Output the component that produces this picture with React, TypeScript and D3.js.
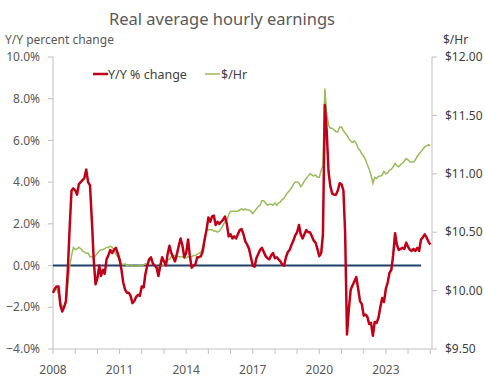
import React from 'react';
import * as d3 from 'd3';

// monthly, Jan 2008 .. Jan 2025
const startYear = 2008;
const yoyChange = [
  -1.3, -1.1, -1.0, -1.0, -1.9, -2.2, -2.0, -1.7, -0.2, 1.8,
  3.6, 3.7, 3.6, 3.4, 3.9, 4.0, 4.1, 4.2, 4.6, 4.0,
  3.85, 2.2, 0.3, -0.9, -0.6, 0.0, -0.5, -0.2, -0.4, 0.3,
  0.5, 0.75, 0.6, 0.75, 0.85, 0.6, 0.3, -0.2, -0.8, -1.15,
  -1.3, -1.3, -1.45, -1.8, -1.7, -1.5, -1.4, -1.45, -1.0, -1.05,
  -0.4, 0.0, 0.3, 0.4, 0.1, 0.0, -0.1, -0.5, 0.0, 0.4,
  0.2, 0.0, 0.55, 0.95, 0.6, 0.4, 0.2, 0.55, 0.95, 1.3,
  0.95, 0.4, 0.6, 1.25, 0.5, -0.1, 0.0, 0.05, 0.4, 0.4,
  0.45, 0.7, 1.25, 1.7, 2.3, 2.1, 2.35, 2.4, 1.95, 2.1,
  2.0, 2.1, 2.2, 2.35, 2.0, 1.4, 1.5, 1.3, 1.4, 1.3,
  1.5, 1.7, 1.75, 1.5, 1.15, 1.0, 0.8, 0.4, 0.0, -0.05,
  0.35, 0.55, 0.75, 0.85, 0.65, 0.45, 0.35, 0.3, 0.5, 0.6,
  0.35, 0.4, 0.3, 0.2, 0.05, 0.0, 0.4, 0.65, 0.75, 1.0,
  1.2, 1.45, 1.6, 1.95, 1.5, 1.3, 1.5, 1.7, 1.6, 1.6,
  1.4, 1.2, 1.1, 0.8, 0.45, 0.6, 1.5, 7.7, 6.5, 4.5,
  3.8, 3.45, 3.4, 3.4, 3.6, 3.95, 3.9, 3.6, 1.6, -3.3,
  -2.1, -1.15, -0.95, -0.75, -0.55, -1.1, -1.7, -1.85, -2.4, -2.35,
  -2.45, -2.8, -2.75, -3.37, -2.7, -2.75, -2.5, -2.0, -1.55, -1.75,
  -1.1, -0.8, -0.35, -0.2, 0.5, 1.55, 1.0, 0.75, 0.8, 0.85,
  0.8, 1.1, 0.9, 0.75, 0.7, 0.8, 0.7, 0.85, 0.7, 1.25,
  1.35, 1.5, 1.35, 1.15, 1.0,
];
const hourly = [
  9.98, 10.0, 10.02, 9.97, 9.9, 9.87, 9.86, 9.9, 10.05, 10.2,
  10.3, 10.37, 10.35, 10.36, 10.37, 10.36, 10.34, 10.33, 10.32, 10.32,
  10.29, 10.29, 10.28, 10.3, 10.32, 10.34, 10.35, 10.35, 10.36, 10.37,
  10.37, 10.38, 10.37, 10.35, 10.31, 10.29, 10.25, 10.23, 10.22, 10.23,
  10.21, 10.22, 10.22, 10.21, 10.21, 10.21, 10.21, 10.22, 10.21, 10.22,
  10.23, 10.22, 10.26, 10.26, 10.24, 10.22, 10.2, 10.19, 10.21, 10.22,
  10.22, 10.24, 10.26, 10.27, 10.29, 10.3, 10.3, 10.29, 10.29, 10.29,
  10.29, 10.28, 10.28, 10.29, 10.29, 10.29, 10.3, 10.3, 10.31, 10.32,
  10.33, 10.37, 10.45, 10.52, 10.52, 10.52, 10.52, 10.51, 10.51, 10.5,
  10.51, 10.53, 10.56, 10.59, 10.6, 10.65, 10.68, 10.68, 10.68, 10.68,
  10.68, 10.69, 10.7, 10.69, 10.7, 10.69, 10.69, 10.68, 10.66, 10.68,
  10.7, 10.72, 10.73, 10.77, 10.77, 10.75, 10.73, 10.74, 10.74, 10.73,
  10.75, 10.73, 10.75, 10.76, 10.78, 10.79, 10.82, 10.84, 10.86, 10.88,
  10.91, 10.93, 10.93, 10.92, 10.89, 10.91, 10.94, 10.96, 10.98, 11.0,
  10.99, 10.98, 10.99, 10.97, 10.97, 11.03, 11.07, 11.73, 11.52, 11.42,
  11.39, 11.39, 11.375, 11.36, 11.36, 11.4, 11.4, 11.37, 11.35, 11.33,
  11.3, 11.28, 11.27, 11.28, 11.26, 11.22, 11.2, 11.17, 11.15, 11.12,
  11.08, 11.04, 10.99, 10.92, 10.97, 10.96, 10.98, 10.98, 10.99, 11.02,
  11.0, 11.01, 11.03, 11.04, 11.06, 11.09, 11.07, 11.06, 11.08, 11.09,
  11.11, 11.13, 11.12, 11.1, 11.1, 11.1, 11.12, 11.15, 11.17, 11.19,
  11.21, 11.23, 11.24, 11.25, 11.24,
];
const zeroLineMonths = 200; // zero reference drawn through Aug 2024
const pctTicks = [-4, -2, 0, 2, 4, 6, 8, 10];
const dollarTicks = [9.5, 10, 10.5, 11, 11.5, 12];
const yearLabels = [2008, 2011, 2014, 2017, 2020, 2023];

const W = 485;
const H = 387;
const left = 53;
const right = 432;
const top = 57;
const bottom = 349;
const font = '"Noto Sans", "DejaVu Sans", sans-serif';
const textColor = '#595959';
const axisColor = '#BFBFBF';

const monthDate = (i: number) => new Date(startYear, i, 1);

export default function App() {
  const x = d3.scaleTime()
    .domain([new Date(2008, 0, 1), new Date(2025, 0, 29)])
    .range([left, right]);
  const yPct = d3.scaleLinear().domain([-4, 10]).range([bottom, top]);
  const yUsd = d3.scaleLinear().domain([9.5, 12]).range([bottom, top]);

  const redLine = d3.line<number>()
    .x((_, i) => x(monthDate(i)))
    .y((d) => yPct(d));
  const greenLine = d3.line<number>()
    .x((_, i) => x(monthDate(i)))
    .y((d) => yUsd(d));

  const years = d3.range(2008, 2026);

  return (
    <svg width={W} height={H} style={{ position: 'absolute', left: 0, top: 0 }} fontFamily={font}>
      <rect width={W} height={H} fill="#fff" />
      <text x={222} y={25} textAnchor="middle" fontSize={16.5} fill={textColor}>
        Real average hourly earnings
      </text>
      <text x={5} y={44} fontSize={12} fill={textColor}>Y/Y percent change</text>
      <text x={443} y={44} fontSize={12} fill="#404040">$/Hr</text>

      {/* left axis */}
      <line x1={left} x2={left} y1={top} y2={bottom} stroke={axisColor} />
      {pctTicks.map((t) => (
        <g key={t}>
          <line x1={left - 5} x2={left} y1={yPct(t)} y2={yPct(t)} stroke={axisColor} />
          <text x={40} y={yPct(t)} dy="0.35em" textAnchor="end" fontSize={12} fill={textColor}>
            {d3.format('.1f')(t) + '%'}
          </text>
        </g>
      ))}

      {/* right axis */}
      <line x1={right} x2={right} y1={top} y2={bottom} stroke={axisColor} />
      {dollarTicks.map((t) => (
        <g key={t}>
          <line x1={right} x2={right + 5} y1={yUsd(t)} y2={yUsd(t)} stroke={axisColor} />
          <text x={445} y={yUsd(t)} dy="0.35em" fontSize={12} fill="#404040">
            {'$' + t.toFixed(2)}
          </text>
        </g>
      ))}

      {/* bottom axis */}
      <line x1={left} x2={right} y1={bottom} y2={bottom} stroke={axisColor} />
      {years.map((yr) => (
        <line key={yr} x1={x(new Date(yr, 0, 1))} x2={x(new Date(yr, 0, 1))}
          y1={bottom} y2={bottom + 5} stroke={axisColor} />
      ))}
      {yearLabels.map((yr) => (
        <text key={yr} x={x(new Date(yr, 0, 1))} y={374} textAnchor="middle" fontSize={12} fill={textColor}>
          {yr}
        </text>
      ))}

      {/* series */}
      <line x1={x(monthDate(0))} x2={x(monthDate(zeroLineMonths - 1))}
        y1={yPct(0)} y2={yPct(0)} stroke="#1F4068" strokeWidth={2} />
      <path d={greenLine(hourly) || ''} fill="none" stroke="#9BBB59" strokeWidth={1.5} />
      <path d={redLine(yoyChange) || ''} fill="none" stroke="#C00018" strokeWidth={2.5} strokeLinejoin="round" />

      {/* legend */}
      <line x1={93} x2={108} y1={74} y2={74} stroke="#C00018" strokeWidth={2.5} />
      <text x={108} y={78.5} fontSize={12.5} fill="#404040">Y/Y % change</text>
      <line x1={205} x2={220} y1={74} y2={74} stroke="#9BBB59" strokeWidth={1.5} />
      <text x={221} y={78.5} fontSize={12.5} fill="#404040">$/Hr</text>
    </svg>
  );
}
